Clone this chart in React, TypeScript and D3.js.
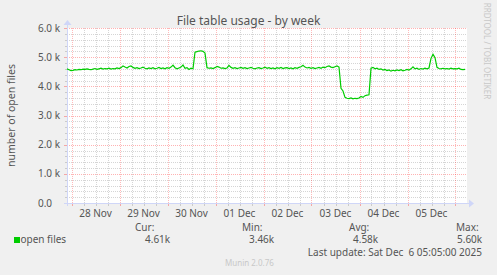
import React from "react";
import * as d3 from "d3";

const W = 497;
const H = 275;

// hourly samples starting at the left edge of the graph (Nov 27 21:45)
const startTime = new Date(2025, 10, 27, 21, 45);
const endTime = new Date(2025, 11, 6, 5, 45);

const openFiles = [
  4600, 4570, 4540, 4550, 4570, 4560, 4580, 4570, 4590, 4580,
  4600, 4580, 4570, 4590, 4610, 4580, 4600, 4620, 4590, 4610,
  4600, 4620, 4590, 4610, 4600, 4630, 4610, 4640, 4700, 4660,
  4630, 4680, 4700, 4650, 4620, 4640, 4610, 4630, 4660, 4620,
  4600, 4630, 4610, 4640, 4600, 4620, 4650, 4610, 4630, 4600,
  4640, 4620, 4660, 4730, 4640, 4600, 4630, 4660, 4730, 4620,
  4640, 4580, 4620, 4600, 5170, 5190, 5210, 5220, 5200, 5140,
  4640, 4620, 4630, 4610, 4640, 4680, 4660, 4620, 4630, 4610,
  4630, 4720, 4650, 4620, 4640, 4610, 4630, 4650, 4620, 4640,
  4610, 4630, 4650, 4620, 4600, 4630, 4640, 4610, 4630, 4660,
  4620, 4640, 4610, 4630, 4600, 4640, 4620, 4650, 4610, 4630,
  4640, 4610, 4630, 4600, 4640, 4620, 4650, 4670, 4720, 4660,
  4630, 4650, 4620, 4640, 4610, 4630, 4650, 4620, 4660, 4640,
  4680, 4700, 4660, 4640, 4670, 4700, 4660, 3930, 3840, 3620,
  3590, 3580, 3600, 3570, 3590, 3580, 3600, 3650, 3620, 3680,
  3700, 3710, 4620, 4650, 4600, 4620, 4580, 4600, 4560, 4580,
  4540, 4560, 4520, 4550, 4530, 4560, 4540, 4570, 4530, 4550,
  4580, 4560, 4600, 4670, 4600, 4620, 4580, 4610, 4590, 4620,
  4600, 4630, 4960, 5100, 4980, 4650, 4610, 4600, 4620, 4600,
  4610, 4590, 4620, 4600, 4610, 4600, 4620, 4580, 4570, 4580,
];

const yTickValues = [0, 1000, 2000, 3000, 4000, 5000, 6000];
const yTickNumbers = ["0.0", "1.0", "2.0", "3.0", "4.0", "5.0", "6.0"];
const yTickUnits = ["", " k", " k", " k", " k", " k", " k"];
const dayLabels = ["28 Nov", "29 Nov", "30 Nov", "01 Dec", "02 Dec", "03 Dec", "04 Dec", "05 Dec"];

const statHeaders = ["Cur:", "Min:", "Avg:", "Max:"];
const statValues = ["4.61k", "3.46k", "4.58k", "5.60k"];
const seriesName = "open files";
const title = "File table usage - by week";
const yTitle = "number of open files";
const lastUpdate = "Last update: Sat Dec  6 05:05:00 2025";

const FONT = "'Noto Sans', 'DejaVu Sans', sans-serif";
const TXT = "#555555";
const GREEN = "#00CC00";
const AXIS = "#CFD6F8";
const MGRID = "rgba(255,0,0,0.3)";
const MGRIDV = "rgba(255,0,0,0.27)";
const GRID = "rgba(128,128,128,0.33)";

export default function App() {
  const left = 67, right = 467, top = 28, bottom = 203;
  const x = d3.scaleTime().domain([startTime, endTime]).range([left, right]);
  const y = d3.scaleLinear().domain([0, 6000]).range([bottom, top]);

  const data = openFiles.map((v, i) => ({ t: d3.timeHour.offset(startTime, i), v }));
  const line = d3
    .line<{ t: Date; v: number }>()
    .x((d) => x(d.t))
    .y((d) => y(d.v));

  const midnights = d3.timeDay.range(d3.timeDay.ceil(startTime), endTime);
  const sixHours = d3.timeHour.every(6)!.range(startTime, endTime).filter((d) => d.getHours() !== 0);
  const minorY = d3.range(200, 6000, 200).filter((v) => v % 1000 !== 0);

  const statX = [135, 242, 349, 456];
  const valX = [145, 249, 353, 457];

  return (
    <svg width={W} height={H} style={{ position: "absolute", left: 0, top: 0 }} fontFamily={FONT}>
      <rect x={0} y={0} width={W} height={H} fill="#F0F0F0" />
      <rect x={left} y={top} width={right - left} height={bottom - top} fill="#FFFFFF" />

      {/* minor grid */}
      <g stroke={GRID} strokeDasharray="1,1" shapeRendering="crispEdges">
        {minorY.map((v) => (
          <line key={"my" + v} x1={left} x2={right} y1={Math.round(y(v)) + 0.5} y2={Math.round(y(v)) + 0.5} />
        ))}
        {sixHours.map((d) => (
          <line key={"mx" + d.getTime()} x1={Math.round(x(d)) + 0.5} x2={Math.round(x(d)) + 0.5} y1={top} y2={bottom} />
        ))}
        {sixHours.map((d) => (
          <line key={"tx" + d.getTime()} x1={Math.round(x(d)) + 0.5} x2={Math.round(x(d)) + 0.5} y1={bottom} y2={bottom + 3} strokeDasharray="none" />
        ))}
        {minorY.map((v) => (
          <line key={"ty" + v} x1={left - 2} x2={left} y1={Math.round(y(v)) + 0.5} y2={Math.round(y(v)) + 0.5} strokeDasharray="none" />
        ))}
      </g>
      {/* major grid */}
      <g stroke={MGRID} strokeDasharray="1,1" shapeRendering="crispEdges">
        {yTickValues.slice(1).map((v) => (
          <line key={"My" + v} x1={left} x2={right} y1={Math.round(y(v)) + 0.5} y2={Math.round(y(v)) + 0.5} />
        ))}
        {midnights.map((d) => (
          <line key={"Mx" + d.getTime()} stroke={MGRIDV} x1={Math.round(x(d)) + 0.5} x2={Math.round(x(d)) + 0.5} y1={top} y2={bottom} />
        ))}
        {midnights.map((d) => (
          <line key={"Tx" + d.getTime()} x1={Math.round(x(d)) + 0.5} x2={Math.round(x(d)) + 0.5} y1={bottom} y2={bottom + 3} strokeDasharray="none" />
        ))}
        {yTickValues.map((v) => (
          <line key={"Ty" + v} x1={left - 3} x2={left} y1={Math.round(y(v)) + 0.5} y2={Math.round(y(v)) + 0.5} strokeDasharray="none" />
        ))}
      </g>

      {/* axes */}
      <g stroke={AXIS} shapeRendering="crispEdges">
        <line x1={left - 3} x2={right + 2} y1={bottom + 0.5} y2={bottom + 0.5} />
        <line x1={left + 0.5} x2={left + 0.5} y1={bottom + 3} y2={top - 3} />
      </g>
      <path d={`M${right + 2},${bottom - 3.5} L${right + 7},${bottom + 0.5} L${right + 2},${bottom + 4.5} Z`} fill={AXIS} />
      <path d={`M${left - 3.5},${top - 3} L${left + 0.5},${top - 8} L${left + 4.5},${top - 3} Z`} fill={AXIS} />

      {/* series */}
      <path d={line(data) ?? ""} fill="none" stroke={GREEN} strokeWidth={1.2} />

      {/* y tick labels */}
      <g fontSize={10} fill={TXT} textAnchor="end">
        {yTickValues.map((v, i) => (
          <text key={"yl" + v} x={60} y={y(v) + 3.5}>
            {yTickNumbers[i]}
            <tspan fillOpacity={yTickUnits[i] ? 1 : 0}>{yTickUnits[i] || " k"}</tspan>
          </text>
        ))}
      </g>
      {/* x tick labels */}
      <g fontSize={10} fill={TXT} textAnchor="middle">
        {dayLabels.map((lbl, i) => (
          <text key={lbl} x={x(d3.timeHour.offset(midnights[i], 12))} y={217}>
            {lbl}
          </text>
        ))}
      </g>

      {/* title */}
      <text x={W / 2} y={25} fontSize={12} fill={TXT} textAnchor="middle">
        {title}
      </text>
      <text transform={`translate(15, ${(top + bottom) / 2}) rotate(-90)`} fontSize={10.5} fill={TXT} textAnchor="middle">
        {yTitle}
      </text>
      <text transform={`translate(484, 51) rotate(90)`} fontSize={8} fill="#C8C8C8" textAnchor="middle">
        RRDTOOL / TOBI OETIKER
      </text>

      {/* legend */}
      <rect x={14} y={237} width={6} height={6} fill={GREEN} />
      <g fontSize={10} fill={TXT}>
        <text x={20.5} y={243}>{seriesName}</text>
        {statHeaders.map((h, i) => (
          <text key={h} x={statX[i]} y={230.5}>{h}</text>
        ))}
        {statValues.map((v, i) => (
          <text key={"v" + i} x={valX[i]} y={243}>{v}</text>
        ))}
        <text x={482} y={255.5} textAnchor="end" style={{ whiteSpace: "pre" }}>{lastUpdate}</text>
      </g>
      <text x={225} y={266} fontSize={8} fill="#C8C8C8">Munin 2.0.76</text>
    </svg>
  );
}
